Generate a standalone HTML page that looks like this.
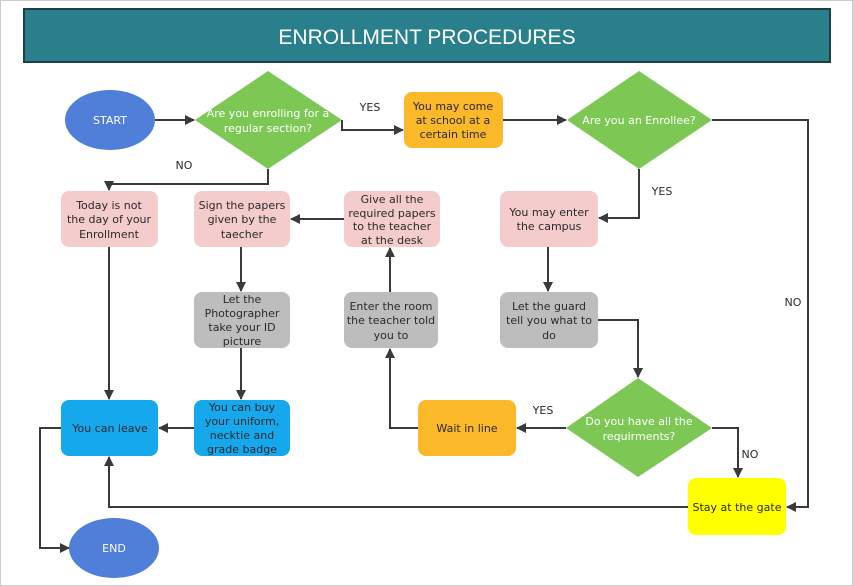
<!DOCTYPE html>
<html><head><meta charset="utf-8"><style>
html,body{margin:0;padding:0;background:#fff;}
svg{display:block;}
text{font-family:"DejaVu Sans","Liberation Sans",sans-serif;font-size:11px;text-anchor:middle;}
.d{fill:#2a2a2a;}
.w{fill:#fff;}
.l{stroke:#3a3a3a;stroke-width:2;fill:none;}
</style></head><body>
<svg width="853" height="586" viewBox="0 0 853 586" xmlns="http://www.w3.org/2000/svg">
<defs><marker id="a" viewBox="0 0 10 10" refX="9" refY="5" markerWidth="5" markerHeight="5" orient="auto"><path d="M0,0 L10,5 L0,10 z" fill="#3a3a3a"/></marker></defs>
<rect x="0.5" y="0.5" width="852" height="585" fill="#fff" stroke="#ccc"/>
<rect x="24" y="9" width="806" height="53" fill="#2a7f8d" stroke="#1f3f44" stroke-width="2"/>
<text x="427" y="44" class="w" style="font-size:21px;font-family:'Liberation Sans',sans-serif">ENROLLMENT PROCEDURES</text>

<!-- connectors -->
<path class="l" marker-end="url(#a)" d="M155 120 H194"/>
<path class="l" marker-end="url(#a)" d="M342 120 V130 H403"/>
<path class="l" marker-end="url(#a)" d="M503 120 H566"/>
<path class="l" marker-end="url(#a)" d="M712 120 H808 V507 H787"/>
<path class="l" marker-end="url(#a)" d="M639 169 V218 H599"/>
<path class="l" marker-end="url(#a)" d="M548 247 V291"/>
<path class="l" marker-end="url(#a)" d="M598 320 H638 V377"/>
<path class="l" marker-end="url(#a)" d="M712 428 H738 V477"/>
<path class="l" marker-end="url(#a)" d="M566 428 H517"/>
<path class="l" marker-end="url(#a)" d="M418 428 H390 V349"/>
<path class="l" marker-end="url(#a)" d="M390 292 V248"/>
<path class="l" marker-end="url(#a)" d="M344 219 H291"/>
<path class="l" marker-end="url(#a)" d="M241 247 V291"/>
<path class="l" marker-end="url(#a)" d="M241 348 V399"/>
<path class="l" marker-end="url(#a)" d="M194 428 H159"/>
<path class="l" marker-end="url(#a)" d="M268 169 V184 H109 V190"/>
<path class="l" marker-end="url(#a)" d="M109 247 V399"/>
<path class="l" marker-end="url(#a)" d="M688 507 H109 V457"/>
<path class="l" marker-end="url(#a)" d="M61 428 H40 V548 H69"/>

<!-- shapes -->
<ellipse cx="110" cy="120" rx="45" ry="30" fill="#4f7fd8"/>
<text x="110" y="124" class="w">START</text>
<polygon points="268,71 342,120 268,169 195,120" fill="#7dc855"/>
<text x="268" y="117" class="w">Are you enrolling for a</text>
<text x="268" y="132" class="w">regular section?</text>
<rect x="404" y="92" width="99" height="56" rx="8" fill="#fbb829"/>
<text x="453" y="110" class="d">You may come</text><text x="453" y="124" class="d">at school at a</text><text x="453" y="138" class="d">certain time</text>
<polygon points="639,71 712,120 639,169 567,120" fill="#7dc855"/>
<text x="639" y="124" class="w">Are you an Enrollee?</text>
<rect x="61" y="191" width="97" height="56" rx="8" fill="#f4cccc"/>
<text x="109" y="209" class="d">Today is not</text><text x="109" y="223" class="d">the day of your</text><text x="109" y="238" class="d">Enrollment</text>
<rect x="194" y="191" width="96" height="56" rx="8" fill="#f4cccc"/>
<text x="242" y="209" class="d">Sign the papers</text><text x="242" y="223" class="d">given by the</text><text x="242" y="238" class="d">taecher</text>
<rect x="344" y="191" width="96" height="56" rx="8" fill="#f4cccc"/>
<text x="392" y="203" class="d">Give all the</text><text x="392" y="217" class="d">required papers</text><text x="392" y="230" class="d">to the teacher</text><text x="392" y="244" class="d">at the desk</text>
<rect x="500" y="191" width="98" height="56" rx="8" fill="#f4cccc"/>
<text x="549" y="216" class="d">You may enter</text><text x="549" y="230" class="d">the campus</text>
<rect x="194" y="292" width="96" height="56" rx="8" fill="#bdbdbd"/>
<text x="242" y="303" class="d">Let the</text><text x="242" y="317" class="d">Photographer</text><text x="242" y="331" class="d">take your ID</text><text x="242" y="345" class="d">picture</text>
<rect x="344" y="292" width="94" height="56" rx="8" fill="#bdbdbd"/>
<text x="391" y="310" class="d">Enter the room</text><text x="391" y="324" class="d">the teacher told</text><text x="391" y="339" class="d">you to</text>
<rect x="500" y="292" width="98" height="56" rx="8" fill="#bdbdbd"/>
<text x="549" y="310" class="d">Let the guard</text><text x="549" y="324" class="d">tell you what to</text><text x="549" y="339" class="d">do</text>
<polygon points="638,378 712,428 638,477 566,428" fill="#7dc855"/>
<text x="639" y="425" class="w">Do you have all the</text><text x="639" y="440" class="w">requirments?</text>
<rect x="418" y="400" width="98" height="56" rx="8" fill="#fbb829"/>
<text x="467" y="432" class="d">Wait in line</text>
<rect x="61" y="400" width="97" height="56" rx="8" fill="#15a8ec"/>
<text x="110" y="432" class="d">You can leave</text>
<rect x="194" y="400" width="96" height="56" rx="8" fill="#15a8ec"/>
<text x="242" y="411" class="d">You can buy</text><text x="242" y="425" class="d">your uniform,</text><text x="242" y="439" class="d">necktie and</text><text x="242" y="453" class="d">grade badge</text>
<rect x="688" y="478" width="98" height="57" rx="8" fill="#ffff00"/>
<text x="737" y="511" class="d">Stay at the gate</text>
<ellipse cx="114" cy="548" rx="45" ry="30" fill="#4f7fd8"/>
<text x="114" y="552" class="w">END</text>

<!-- labels -->
<text x="370" y="111" class="d">YES</text>
<text x="184" y="169" class="d">NO</text>
<text x="662" y="195" class="d">YES</text>
<text x="793" y="306" class="d">NO</text>
<text x="543" y="414" class="d">YES</text>
<text x="750" y="458" class="d">NO</text>
</svg>
</body></html>
